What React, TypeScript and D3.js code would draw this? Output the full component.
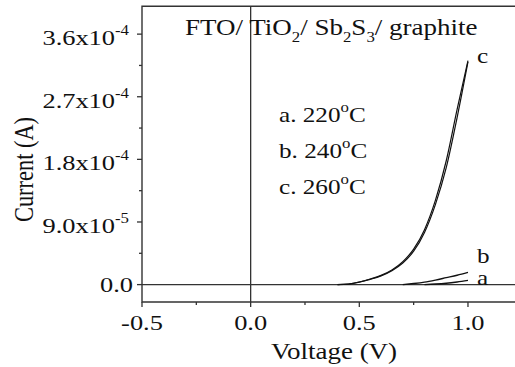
import React from "react";
import * as d3 from "d3";

// Sweep voltages (V) and measured currents (A)
const voltageC = [0.4, 0.45, 0.5, 0.55, 0.6, 0.65, 0.7, 0.75, 0.8, 0.85, 0.9, 0.95, 1.0];
const currentCFwd = [0, 8e-7, 3.5e-6, 7.5e-6, 1.25e-5, 2.0e-5, 3.1e-5, 4.8e-5, 7.5e-5, 1.15e-4, 1.68e-4, 2.4e-4, 3.2e-4];
const currentCRev = [0, 9e-7, 3.8e-6, 8e-6, 1.32e-5, 2.1e-5, 3.3e-5, 5.1e-5, 7.9e-5, 1.21e-4, 1.78e-4, 2.52e-4, 3.22e-4];

const voltageB = [0.7, 0.75, 0.8, 0.85, 0.9, 0.95, 1.0];
const currentB = [0, 1.5e-6, 3.5e-6, 6.5e-6, 1.0e-5, 1.35e-5, 1.75e-5];

const voltageA = [0.8, 0.85, 0.9, 0.95, 1.0];
const currentA = [0, 8e-7, 2e-6, 3.8e-6, 6e-6];

const xMajorTicks = [-0.5, 0, 0.5, 1.0];
const xMinorTicks = [-0.25, 0.25, 0.75];
const yMajorTicks = [0, 9e-5, 1.8e-4, 2.7e-4, 3.6e-4];
const yMinorTicks = [4.5e-5, 1.35e-4, 2.25e-4, 3.15e-4];

const legendLabels = ["a. 220", "b. 240", "c. 260"];
const curveLabels = ["a", "b", "c"];

const W = 515;
const H = 367;
const SX = 1.2; // glyphs are drawn slightly wide
const FONT = "'Liberation Serif', 'Times New Roman', serif";
const AXIS = "#333";

const x = d3.scaleLinear().domain([-0.5, 1.25]).range([142, 522.3]);
const y = d3.scaleLinear().domain([-2.5e-5, 4.0e-4]).range([302, 6.3]);

const line = d3
  .line<[number, number]>()
  .x((d) => x(d[0]))
  .y((d) => y(d[1]))
  .curve(d3.curveMonotoneX);

const zip = (vs: number[], is: number[]) => vs.map((v, i) => [v, is[i]] as [number, number]);

function sci(v: number) {
  if (v === 0) return { m: "0.0", e: null as string | null };
  const e = Math.floor(Math.log10(v) + 1e-9);
  const m = (v / Math.pow(10, e)).toFixed(1);
  return { m, e: String(e) };
}

const fmtX = (t: number) => t.toFixed(1).replace("\u2212", "-");

function Wide({ x: tx, y: ty, children, anchor = "start", size = 22, rotate = 0 }: any) {
  return (
    <text
      transform={`translate(${tx},${ty}) scale(${SX},1)${rotate ? ` rotate(${rotate})` : ""}`}
      textAnchor={anchor}
      fontFamily={FONT}
      fontSize={size}
      fill="#111"
    >
      {children}
    </text>
  );
}

export default function App() {
  const [x0, x1] = x.range();
  const [yb, yt] = y.range();
  return (
    <svg width={W} height={H} style={{ position: "absolute", left: 0, top: 0, background: "#fff" }}>
      <rect width={W} height={H} fill="#fff" />

      {/* frame */}
      <path d={`M${x1},${yt}H${x0}V${yb}H${x1}`} fill="none" stroke={AXIS} strokeWidth={1.4} />
      <line x1={x1} x2={x1} y1={yt} y2={yb} stroke={AXIS} strokeWidth={1.4} />

      {/* zero lines */}
      <line x1={x(0)} x2={x(0)} y1={yt} y2={yb} stroke={AXIS} strokeWidth={1.3} />
      <line x1={x0} x2={x1} y1={y(0)} y2={y(0)} stroke={AXIS} strokeWidth={1.3} />

      {/* y ticks */}
      {yMajorTicks.map((t) => (
        <line key={"ym" + t} x1={x0 - 5} x2={x0} y1={y(t)} y2={y(t)} stroke={AXIS} strokeWidth={1.3} />
      ))}
      {yMinorTicks.map((t) => (
        <line key={"yn" + t} x1={x0 - 3} x2={x0} y1={y(t)} y2={y(t)} stroke={AXIS} strokeWidth={1.3} />
      ))}
      {yMajorTicks.map((t) => {
        const { m, e } = sci(t);
        return (
          <Wide key={"yl" + t} x={e ? 129 : 133} y={y(t) + (e ? 11 : 7)} anchor="end" size={22}>
            {e ? m + "x10" : m}
            {e && (
              <tspan dy={-10} fontSize={14}>
                {e}
              </tspan>
            )}
          </Wide>
        );
      })}

      {/* x ticks */}
      {xMajorTicks.map((t) => (
        <line key={"xm" + t} x1={x(t)} x2={x(t)} y1={yb} y2={yb + 5} stroke={AXIS} strokeWidth={1.3} />
      ))}
      {xMinorTicks.map((t) => (
        <line key={"xn" + t} x1={x(t)} x2={x(t)} y1={yb} y2={yb + 3} stroke={AXIS} strokeWidth={1.3} />
      ))}
      {xMajorTicks.map((t) => (
        <Wide key={"xl" + t} x={x(t)} y={330} anchor="middle" size={22}>
          {fmtX(t)}
        </Wide>
      ))}

      {/* axis titles */}
      <Wide x={334} y={359} anchor="middle" size={22.5}>
        Voltage (V)
      </Wide>
      <Wide x={33} y={169.5} anchor="middle" size={22.4} rotate={-90}>
        Current (A)
      </Wide>

      {/* device stack */}
      <Wide x={185} y={34.5} size={22.5}>
        FTO/ TiO
        <tspan dy={7} fontSize={14}>2</tspan>
        <tspan dy={-7}>/ Sb</tspan>
        <tspan dy={7} fontSize={14}>2</tspan>
        <tspan dy={-7}>S</tspan>
        <tspan dy={7} fontSize={14}>3</tspan>
        <tspan dy={-7}>/ graphite</tspan>
      </Wide>

      {/* annealing temperatures */}
      {legendLabels.map((l, i) => (
        <Wide key={l} x={279} y={122 + i * 36} size={21}>
          {l}
          <tspan dy={-10} fontSize={14}>o</tspan>
          <tspan dy={10}>C</tspan>
        </Wide>
      ))}

      {/* I-V curves */}
      <path d={line(zip(voltageC, currentCFwd)) || ""} fill="none" stroke="#111" strokeWidth={1.2} />
      <path d={line(zip(voltageC, currentCRev)) || ""} fill="none" stroke="#111" strokeWidth={1.2} />
      <path d={line(zip(voltageB, currentB)) || ""} fill="none" stroke="#111" strokeWidth={1.4} />
      <path d={line(zip(voltageA, currentA)) || ""} fill="none" stroke="#111" strokeWidth={1.4} />

      {/* curve labels */}
      {curveLabels.map((c, i) => (
        <Wide key={c} x={477} y={i === 2 ? 63 : i === 1 ? 263 : 285} size={21}>
          {c}
        </Wide>
      ))}
    </svg>
  );
}
